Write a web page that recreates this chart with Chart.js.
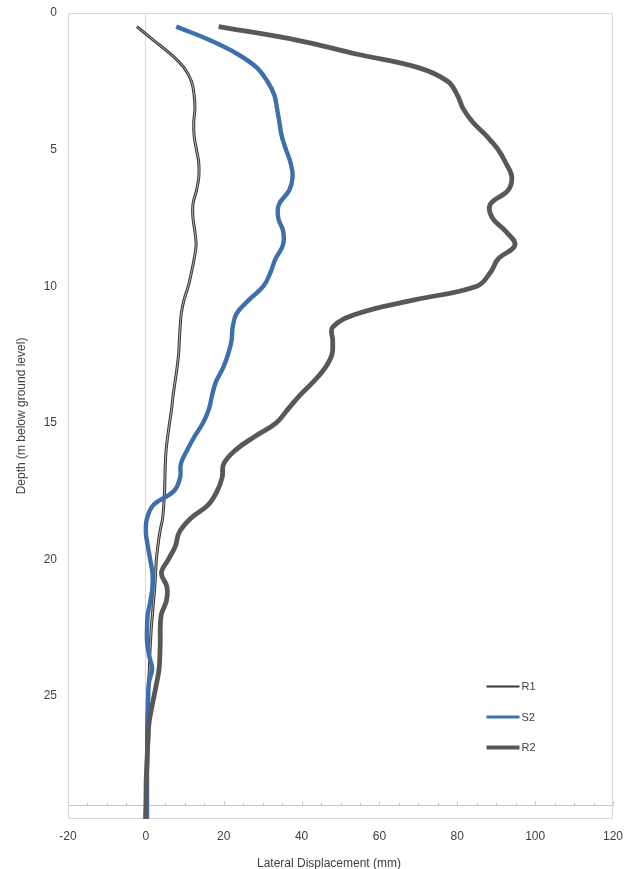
<!DOCTYPE html>
<html>
<head>
<meta charset="utf-8">
<script src="https://cdn.jsdelivr.net/npm/chart.js@4.4.1/dist/chart.umd.min.js"></script>
<style>
  html, body { margin: 0; padding: 0; background: #ffffff; }
  canvas { display: block; }
</style>
</head>
<body>
<canvas id="chart" width="634" height="869"></canvas>
<script>
// Inclinometer profiles: lateral displacement (mm) against depth (m below ground level)
const depths = [0.5, 1, 1.5, 2, 2.5, 3, 3.5, 4, 4.5, 5, 5.5, 6, 6.5, 7, 7.5, 8, 8.5, 9, 9.5, 10,
  10.5, 11, 11.5, 12, 12.5, 13, 13.5, 14, 14.5, 15, 15.5, 16, 16.5, 17, 17.5, 18, 18.5, 19, 19.5, 20,
  20.5, 21, 21.5, 22, 22.5, 23, 23.5, 24, 24.5, 25, 25.5, 26, 26.5, 27, 27.5, 28, 28.5, 29, 29.5];

const r1 = [-2.3, 2.0, 6.3, 9.8, 11.7, 12.4, 12.6, 12.3, 12.4, 13.0, 13.6, 13.6, 13.0, 12.1, 12.1, 12.6, 12.9, 12.4, 11.7, 10.9,
  9.8, 9.1, 8.8, 8.6, 8.4, 8.0, 7.5, 7.0, 6.6, 6.1, 5.6, 5.2, 5.0, 4.9, 4.8, 4.6, 4.3, 3.6, 3.1, 2.7,
  2.5, 2.3, 2.0, 1.7, 1.4, 1.2, 1.0, 0.9, 0.7, 0.5, 0.4, 0.3, 0.2, 0.2, 0.1, 0.1, 0.0, 0.0, 0.0];

const s2 = [7.8, 16.5, 23.5, 28.5, 31.2, 33.0, 33.7, 34.3, 34.9, 36.0, 37.2, 37.7, 36.8, 34.2, 34.0, 35.3, 35.2, 33.3, 32.0, 30.2,
  26.5, 23.3, 22.3, 22.0, 21.1, 19.8, 18.0, 17.0, 16.2, 14.7, 12.5, 10.6, 9.0, 8.8, 7.2, 2.0, 0.3, 0.0, 0.5, 1.1,
  1.7, 1.7, 1.2, 0.5, 0.3, 0.3, 0.8, 1.6, 0.8, 0.6, 0.5, 0.4, 0.4, 0.4, 0.3, 0.3, 0.3, 0.3, 0.3];

const r2 = [18.7, 39.0, 54.0, 70.0, 77.5, 80.0, 81.5, 84.0, 87.5, 90.5, 92.5, 94.0, 93.0, 88.5, 89.0, 92.5, 94.8, 90.5, 88.5, 85.0,
  69.0, 54.5, 48.0, 48.0, 47.8, 46.0, 43.0, 39.5, 36.5, 33.5, 28.0, 23.0, 20.0, 19.6, 18.3, 16.0, 11.5, 8.6, 7.6, 5.8,
  4.0, 5.4, 5.3, 4.0, 3.7, 3.7, 3.6, 3.4, 2.8, 2.1, 1.4, 0.8, 0.6, 0.4, 0.3, 0.1, 0.05, 0.0, -0.1];

const seriesNames = ['R1', 'S2', 'R2'];
const xTicks = [-20, 0, 20, 40, 60, 80, 100, 120];
const yTicks = [0, 5, 10, 15, 20, 25];
const xRange = [-20, 120];
const depthRange = [0, 29.5];
const axisCrossDepth = 29;
const minorStep = 5;

const FONT = "'Liberation Sans', Arial, Helvetica, sans-serif";
const TEXT = '#404040';
const COLORS = { R1: '#363636', S2: '#3e6fa9', R2: '#585858' };

const toPoints = vals => vals.map((v, i) => ({ x: v, y: depths[i] }));

// frame, depth axis line with minor ticks, legend and bottom title
const decorations = {
  id: 'decorations',
  beforeDatasetsDraw(chart) {
    const { ctx, chartArea: a, scales: { x, y } } = chart;
    ctx.save();
    ctx.lineWidth = 1;
    ctx.strokeStyle = '#d9d9d9';
    ctx.strokeRect(Math.round(a.left) + 0.5, Math.round(a.top) + 0.5,
      Math.round(a.right - a.left) - 1, Math.round(a.bottom - a.top) - 1);

    const yy = Math.round(y.getPixelForValue(axisCrossDepth)) + 0.5;
    ctx.strokeStyle = '#c6c6c6';
    ctx.beginPath();
    ctx.moveTo(a.left, yy);
    ctx.lineTo(a.right, yy);
    for (let v = xRange[0]; v <= xRange[1]; v += minorStep) {
      const px = Math.round(x.getPixelForValue(v)) + 0.5;
      ctx.moveTo(px, yy);
      ctx.lineTo(px, yy - (v % 20 === 0 ? 4 : 3));
    }
    ctx.stroke();
    ctx.restore();
  },
  afterDraw(chart) {
    const { ctx, chartArea: a } = chart;
    ctx.save();
    // legend
    const widths = { R1: 2, S2: 3.2, R2: 4 };
    const lx0 = a.left + 418.5, lx1 = a.left + 451.5;
    seriesNames.forEach((name, i) => {
      const ly = a.top + 673.5 + i * 30.5;
      ctx.strokeStyle = COLORS[name];
      ctx.lineWidth = widths[name];
      ctx.lineCap = 'butt';
      ctx.beginPath();
      ctx.moveTo(lx0, ly);
      ctx.lineTo(lx1, ly);
      ctx.stroke();
      ctx.fillStyle = TEXT;
      ctx.font = '11px ' + FONT;
      ctx.textAlign = 'left';
      ctx.textBaseline = 'middle';
      ctx.fillText(name, lx1 + 2, ly + 0.5);
    });
    // horizontal axis title
    ctx.fillStyle = TEXT;
    ctx.font = '12px ' + FONT;
    ctx.textAlign = 'center';
    ctx.textBaseline = 'middle';
    ctx.fillText('Lateral Displacement (mm)', a.left + 261, chart.height - 5);
    ctx.restore();
  }
};

new Chart(document.getElementById('chart'), {
  type: 'scatter',
  data: {
    datasets: [
      { label: 'R2', data: toPoints(r2), showLine: true, borderColor: COLORS.R2, borderWidth: 4.8,
        tension: 0.4, pointRadius: 0, order: 0 },
      { label: 'S2', data: toPoints(s2), showLine: true, borderColor: COLORS.S2, borderWidth: 4.4,
        tension: 0.4, pointRadius: 0, order: 1 },
      { label: 'R1 core', data: toPoints(r1), showLine: true, borderColor: '#c4c4c4', borderWidth: 0.9,
        tension: 0.4, pointRadius: 0, order: 2 },
      { label: 'R1', data: toPoints(r1), showLine: true, borderColor: COLORS.R1, borderWidth: 3,
        tension: 0.4, pointRadius: 0, order: 3 }
    ]
  },
  options: {
    responsive: false,
    animation: false,
    devicePixelRatio: 1,
    layout: { padding: { top: 13, right: 21, left: 0, bottom: 0 } },
    plugins: { legend: { display: false }, tooltip: { enabled: false } },
    scales: {
      x: {
        type: 'linear',
        min: xRange[0], max: xRange[1],
        afterBuildTicks: s => { s.ticks = xTicks.map(v => ({ value: v })); },
        afterFit: s => { s.height = 50; s.paddingLeft = 0; s.paddingRight = 0; },
        grid: {
          color: c => (c.tick && c.tick.value === 0 ? '#d9d9d9' : 'rgba(0,0,0,0)'),
          lineWidth: 1, drawTicks: false
        },
        border: { display: false },
        ticks: { padding: 10, color: TEXT, font: { family: FONT, size: 12 }, maxRotation: 0 }
      },
      y: {
        type: 'linear',
        reverse: true,
        min: depthRange[0], max: depthRange[1],
        afterBuildTicks: s => { s.ticks = yTicks.map(v => ({ value: v })); },
        afterFit: s => { s.width = 68; s.paddingTop = 0; s.paddingBottom = 0; },
        grid: { display: false, drawTicks: false },
        border: { display: false },
        ticks: { padding: 11, color: TEXT, font: { family: FONT, size: 12 } },
        title: {
          display: true, text: 'Depth (m below ground level)', color: TEXT,
          font: { family: FONT, size: 12 }, padding: { top: 14, bottom: 0 }
        }
      }
    }
  },
  plugins: [decorations]
});
</script>
</body>
</html>
